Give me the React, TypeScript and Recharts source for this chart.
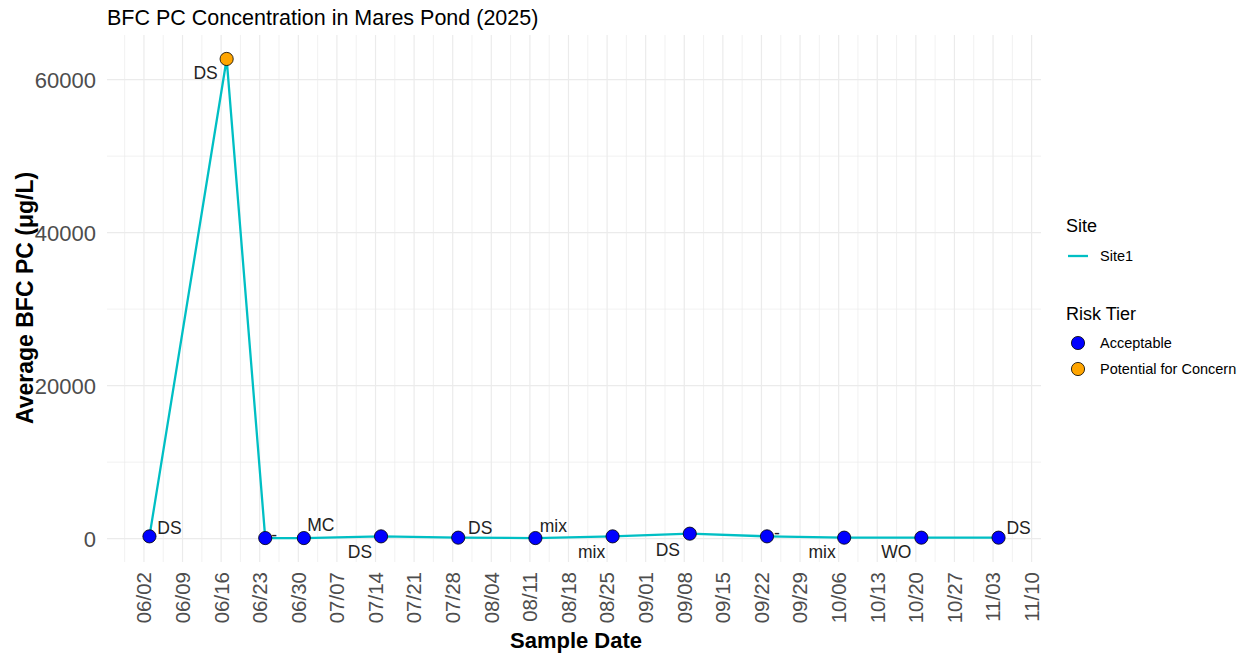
import React from 'react';
import { ComposedChart, Line, XAxis, YAxis, CartesianGrid } from 'recharts';

// ---- data ----
const sampleDates = ['06/03', '06/17', '06/24', '07/01', '07/15', '07/29', '08/12', '08/26', '09/09', '09/23', '10/07', '10/21', '11/04'];
const avgBfcPc = [300, 62700, 80, 80, 300, 130, 80, 300, 650, 300, 130, 130, 130];
const riskTier = ['Acceptable', 'Potential for Concern', 'Acceptable', 'Acceptable', 'Acceptable', 'Acceptable', 'Acceptable', 'Acceptable', 'Acceptable', 'Acceptable', 'Acceptable', 'Acceptable', 'Acceptable'];
const sampleType = ['DS', 'DS', '-', 'MC', 'DS', 'DS', 'mix', 'mix', 'DS', '-', 'mix', 'WO', 'DS'];
const xTickLabels = ['06/02', '06/09', '06/16', '06/23', '06/30', '07/07', '07/14', '07/21', '07/28', '08/04', '08/11', '08/18', '08/25', '09/01', '09/08', '09/15', '09/22', '09/29', '10/06', '10/13', '10/20', '10/27', '11/03', '11/10'];
const yTicks = [0, 20000, 40000, 60000];
const yMinorTicks = [10000, 30000, 50000];
const siteNames = ['Site1'];
const tierNames = ['Acceptable', 'Potential for Concern'];

// ---- styling / placement (not data) ----
const tierColors: Record<string, string> = { 'Acceptable': '#0000FF', 'Potential for Concern': '#FFA500' };
const lineColor = '#00BFC4';
const labelOffsets: [number, number][] = [
  [20, -9], [-21, 14], [9, -3], [17, -13], [-21, 15], [22, -10], [18, -12],
  [-21, 15], [-22, 16], [10, -4], [-22, 14], [-25, 14], [20, -10],
];
const FONT = '"Liberation Sans", Arial, Helvetica, sans-serif';

const toDay = (s: string) => {
  const [m, d] = s.split('/').map(Number);
  return (Date.UTC(2025, m - 1, d) - Date.UTC(2025, 0, 1)) / 86400000;
};

const data = sampleDates.map((d, i) => ({
  day: toDay(d),
  value: avgBfcPc[i],
  tier: riskTier[i],
  type: sampleType[i],
}));

const xs = data.map((d) => d.day);
const xMin = Math.min(...xs);
const xMax = Math.max(...xs);
const xLo = xMin - 0.05 * (xMax - xMin);
const xHi = xMax + 0.05 * (xMax - xMin);
const ys = data.map((d) => d.value);
const yMin = Math.min(...ys);
const yMax = Math.max(...ys);
const yLo = yMin - 0.05 * (yMax - yMin);
const yHi = yMax + 0.05 * (yMax - yMin);

const xTicks = xTickLabels.map(toDay);
const xMinorTicks = xTicks.map((t) => t - 3.5).filter((t) => t > xLo && t < xHi);
const tickLabelByDay: Record<number, string> = {};
xTicks.forEach((t, i) => { tickLabelByDay[t] = xTickLabels[i]; });

const XTick = (props: any) => {
  const { x, y, payload } = props;
  return (
    <text x={x} y={y} dy="0.36em" textAnchor="end" transform={`rotate(-90, ${x}, ${y})`}
      fontFamily={FONT} fontSize={20.5} fill="#4D4D4D">
      {tickLabelByDay[payload.value]}
    </text>
  );
};

const YTick = (props: any) => {
  const { x, y, payload } = props;
  return (
    <text x={x} y={y} dy="0.36em" textAnchor="end" fontFamily={FONT} fontSize={22} fill="#4D4D4D">
      {payload.value}
    </text>
  );
};

const PointDot = (props: any) => {
  const { cx, cy, index, payload } = props;
  if (cx == null || cy == null) return <g key={`d${index}`} />;
  const [dx, dy] = labelOffsets[index] || [0, 0];
  return (
    <g key={`d${index}`}>
      <circle cx={cx} cy={cy} r={6.6} fill={tierColors[payload.tier]} stroke="#000" strokeWidth={0.8} />
      <text x={cx + dx} y={cy + dy} dy="0.36em" textAnchor="middle" fontFamily={FONT} fontSize={17.5} fill="#222">
        {payload.type}
      </text>
    </g>
  );
};

export default function App() {
  return (
    <div style={{ position: 'absolute', left: 0, top: 0, width: 1250, height: 654, background: '#fff' }}>
      <ComposedChart width={1250} height={654} data={data} margin={{ top: 35, right: 209, bottom: 0, left: 0 }}>
        <CartesianGrid stroke="#EBEBEB" strokeWidth={0.7} horizontalValues={yMinorTicks} verticalValues={xMinorTicks} />
        <CartesianGrid stroke="#EBEBEB" strokeWidth={1.2} horizontalValues={yTicks} verticalValues={xTicks} />
        <XAxis dataKey="day" type="number" domain={[xLo, xHi]} allowDataOverflow ticks={xTicks} interval={0}
          height={92} tickLine={false} axisLine={false} tickSize={0} tickMargin={10} tick={<XTick />} />
        <YAxis type="number" domain={[yLo, yHi]} allowDataOverflow ticks={yTicks} interval={0}
          width={107} tickLine={false} axisLine={false} tickSize={0} tickMargin={11} tick={<YTick />} />
        <Line type="linear" dataKey="value" stroke={lineColor} strokeWidth={2.3} isAnimationActive={false}
          dot={PointDot} activeDot={false} />
      </ComposedChart>
      <svg width={1250} height={654} style={{ position: 'absolute', left: 0, top: 0, pointerEvents: 'none' }}>
        <text x={107} y={25} fontFamily={FONT} fontSize={21.5} fill="#000">BFC PC Concentration in Mares Pond (2025)</text>
        <text x={33} y={298} textAnchor="middle" transform="rotate(-90, 33, 298)" fontFamily={FONT} fontSize={23} fontWeight="bold" fill="#000">
          Average BFC PC (μg/L)
        </text>
        <text x={576} y={648} textAnchor="middle" fontFamily={FONT} fontSize={22} fontWeight="bold" fill="#000">Sample Date</text>
        {/* legend */}
        <text x={1066} y={232} fontFamily={FONT} fontSize={18} fill="#000">Site</text>
        {siteNames.map((s, i) => (
          <g key={s}>
            <line x1={1068} x2={1088} y1={256 + i * 26} y2={256 + i * 26} stroke={lineColor} strokeWidth={2.3} />
            <text x={1100} y={261 + i * 26} fontFamily={FONT} fontSize={14.5} fill="#000">{s}</text>
          </g>
        ))}
        <text x={1066} y={320} fontFamily={FONT} fontSize={18} fill="#000">Risk Tier</text>
        {tierNames.map((t, i) => (
          <g key={t}>
            <circle cx={1078} cy={343 + i * 26} r={6.6} fill={tierColors[t]} stroke="#000" strokeWidth={0.8} />
            <text x={1100} y={348 + i * 26} fontFamily={FONT} fontSize={14.5} fill="#000">{t}</text>
          </g>
        ))}
      </svg>
    </div>
  );
}
